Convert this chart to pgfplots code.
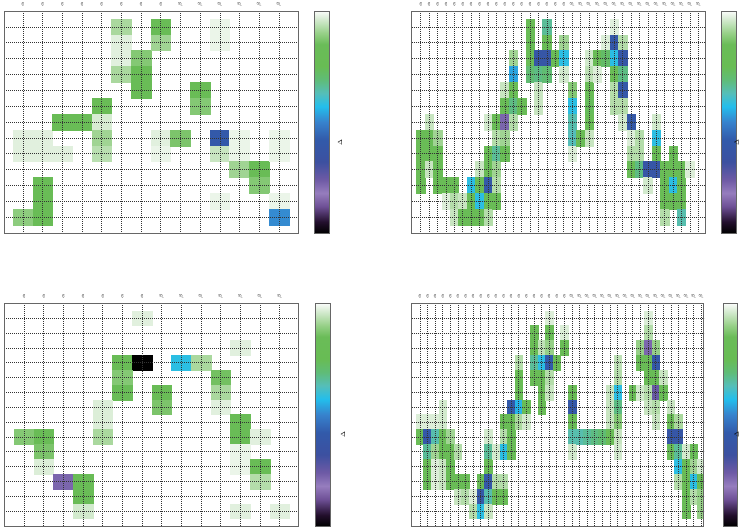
\documentclass[border=0pt]{standalone}
\usepackage{pgfplots}
\pgfplotsset{compat=1.18}
\newcommand{\A}{$\alpha$}
\newcommand{\B}{$\beta$}
\pgfplotsset{
  colormap={delta}{rgb255(0)=(0,0,0) rgb255(50)=(35,15,45) rgb255(120)=(110,80,150)
    rgb255(180)=(150,125,190) rgb255(240)=(110,90,165) rgb255(320)=(60,80,160)
    rgb255(420)=(50,90,170) rgb255(500)=(55,130,205) rgb255(570)=(35,190,236)
    rgb255(630)=(85,190,185) rgb255(690)=(95,188,120) rgb255(750)=(104,188,84)
    rgb255(850)=(106,188,88) rgb255(900)=(150,208,135) rgb255(940)=(190,225,182)
    rgb255(975)=(225,240,222) rgb255(1000)=(250,252,250)},
  hm/.style={
    scale only axis, anchor=north west,
    y dir=reverse, axis on top, clip marker paths=true,
    xticklabel pos=upper,
    major tick length=0pt,
    yticklabels={},
    grid=major,
    grid style={black!80, line width=0.6bp, dash pattern=on 1bp off 1bp},
    axis line style={black!60, line width=0.9bp},
    xticklabel style={rotate=90, anchor=west, inner xsep=4.5bp, inner ysep=0pt, outer sep=0pt,
      font=\fontsize{5}{5}\selectfont},
    colormap name=delta, point meta min=0, point meta max=1,
    colorbar,
  },
  cbs/.style 2 args={colorbar style={at={(parent axis.north east)}, anchor=north west,
      xshift=#1, width=14.5bp, height=#2, scale only axis, ytick=\empty,
      axis line style={black!60, line width=0.9bp}}},
  cell/.style={scatter, only marks, mark=square*, point meta=explicit,
    scatter/use mapped color={draw=mapped color, fill=mapped color}},
}
\begin{document}
\begin{tikzpicture}
% ---------------- top left ----------------
\begin{axis}[hm, at={(4bp,-11bp)}, width=294bp, height=222bp,
  xmin=-0.96, xmax=13.97, ymin=-1, ymax=13,
  xtick={0,...,13}, xticklabels={\A,\A,\A,\A,\A,\A,\A,\A,\B,\B,\B,\B,\B,\B},
  ytick={0,...,12}, cbs={8bp}{222bp}]
\addplot[cell, mark size=7.93bp, mark options={xscale=1.2415}] table[meta=v]{
x y v
0 7 0.975
1 7 0.975
0 8 0.975
1 8 0.975
2 8 0.975
0 12 0.89
1 10 0.81
1 11 0.81
1 12 0.80
2 6 0.81
3 6 0.81
4 5 0.80
4 6 0.965
4 7 0.91
4 8 0.935
5 0 0.92
5 1 0.975
5 2 0.975
5 3 0.92
6 2 0.88
6 3 0.81
6 4 0.81
7 0 0.80
7 1 0.91
7 7 0.975
7 8 0.985
8 7 0.87
9 4 0.81
9 5 0.88
10 0 0.985
10 1 0.985
10 7 0.41
10 8 0.95
10 11 0.985
11 7 0.985
11 8 0.985
11 9 0.91
12 9 0.80
12 10 0.88
13 7 0.985
13 8 0.985
13 11 0.985
13 12 0.51
};
\end{axis}
% ---------------- top right ----------------
\begin{axis}[hm, at={(411.7bp,-11bp)}, width=293.3bp, height=222bp,
  xmin=-1.07, xmax=33.8, ymin=-1, ymax=13,
  xtick={0,...,33}, xticklabels={\A,\A,\A,\A,\A,\A,\A,\A,\A,\A,\A,\A,\A,\A,\A,\A,\A,\A,\B,\B,\B,\B,\B,\B,\B,\B,\B,\B,\B,\B,\B,\B,\B,\B},
  ytick={0,...,12}, cbs={8bp}{222bp}]
\addplot[cell, mark size=7.93bp, mark options={xscale=0.5303}] table[meta=v]{
x y v
0 7 0.81
0 8 0.81
0 9 0.81
0 10 0.81
1 6 0.95
1 7 0.81
1 8 0.81
1 9 0.95
2 7 0.91
2 8 0.81
2 9 0.81
2 10 0.81
3 10 0.81
3 11 0.97
4 10 0.81
4 11 0.93
4 12 0.95
5 11 0.95
5 12 0.81
6 10 0.58
6 11 0.81
6 12 0.81
7 9 0.95
7 10 0.81
7 11 0.58
7 12 0.81
8 6 0.96
8 8 0.81
8 9 0.81
8 10 0.40
8 11 0.81
8 12 0.93
9 6 0.81
9 7 0.93
9 8 0.66
9 9 0.91
9 10 0.93
9 11 0.81
10 4 0.95
10 5 0.81
10 6 0.22
10 7 0.91
10 8 0.81
11 2 0.91
11 3 0.54
11 4 0.81
11 5 0.68
11 6 0.93
12 5 0.81
13 0 0.81
13 1 0.81
13 2 0.81
13 3 0.70
14 2 0.38
14 3 0.68
14 4 0.95
14 5 0.95
15 0 0.66
15 1 0.81
15 2 0.38
15 3 0.70
16 2 0.81
17 1 0.91
17 2 0.58
17 3 0.96
18 4 0.88
18 5 0.58
18 6 0.64
18 7 0.63
18 8 0.97
19 7 0.81
20 2 0.96
20 3 0.94
20 4 0.81
20 5 0.74
20 6 0.81
20 7 0.95
21 2 0.81
21 3 0.97
22 1 0.97
22 2 0.72
23 0 0.975
23 1 0.40
23 2 0.58
23 3 0.81
23 4 0.93
23 5 0.93
24 1 0.93
24 2 0.38
24 3 0.68
24 4 0.40
24 5 0.93
24 6 0.96
25 6 0.40
25 7 0.97
25 8 0.93
25 9 0.81
26 7 0.93
26 8 0.93
26 9 0.68
27 9 0.38
27 10 0.96
28 6 0.96
28 7 0.58
28 8 0.81
28 9 0.38
29 9 0.81
29 10 0.81
29 11 0.81
29 12 0.93
30 8 0.81
30 9 0.81
30 10 0.58
30 11 0.81
31 9 0.81
31 10 0.81
31 11 0.81
31 12 0.64
32 9 0.97
};
\end{axis}
% ---------------- bottom left ----------------
\begin{axis}[hm, at={(4bp,-303.3bp)}, width=294.3bp, height=222.7bp,
  xmin=-1.02, xmax=13.95, ymin=-1, ymax=14,
  xtick={0,...,13}, xticklabels={\A,\A,\A,\A,\A,\A,\A,\B,\B,\B,\B,\B,\B,\B},
  ytick={0,...,13}, cbs={9bp}{222.7bp}]
\addplot[cell, mark size=7.42bp, mark options={xscale=1.324}] table[meta=v]{
x y v
6 0 0.975
11 2 0.975
5 3 0.81
6 3 0.0
8 3 0.58
9 3 0.92
5 4 0.88
5 5 0.82
10 4 0.86
10 5 0.92
10 6 0.975
7 5 0.81
7 6 0.87
4 6 0.97
4 7 0.97
4 8 0.92
11 7 0.81
11 8 0.81
12 8 0.975
0 8 0.88
1 8 0.81
1 9 0.87
1 10 0.97
11 9 0.985
11 10 0.985
12 10 0.81
12 11 0.93
2 11 0.22
3 11 0.81
3 12 0.81
3 13 0.96
11 13 0.975
13 13 0.975
};
\end{axis}
% ---------------- bottom right ----------------
\begin{axis}[hm, at={(411.5bp,-303.3bp)}, width=292bp, height=222.7bp,
  xmin=-1.1, xmax=37.3, ymin=-1, ymax=14,
  xtick={0,...,37}, xticklabels={\A,\A,\A,\A,\A,\A,\A,\A,\A,\A,\A,\A,\A,\A,\A,\A,\A,\A,\A,\A,\B,\B,\B,\B,\B,\B,\B,\B,\B,\B,\B,\B,\B,\B,\B,\B,\B,\B},
  ytick={0,...,13}, cbs={11bp}{222.7bp}]
\addplot[cell, mark size=7.42bp, mark options={xscale=0.512}] table[meta=v]{
x y v
0 7 0.97
0 8 0.81
1 7 0.97
1 8 0.40
1 9 0.66
1 10 0.81
1 11 0.81
2 7 0.97
2 8 0.64
2 9 0.91
2 10 0.97
2 11 0.97
3 6 0.96
3 7 0.96
3 8 0.85
3 9 0.81
3 10 0.95
3 11 0.95
4 8 0.91
4 9 0.81
4 10 0.81
4 11 0.81
5 9 0.93
5 11 0.81
5 12 0.95
6 11 0.81
6 12 0.93
7 12 0.97
7 13 0.93
8 11 0.81
8 12 0.40
8 13 0.58
9 8 0.96
9 9 0.66
9 10 0.81
9 11 0.40
9 12 0.64
9 13 0.95
10 9 0.96
10 11 0.93
10 12 0.81
11 7 0.81
11 8 0.93
11 9 0.58
11 11 0.93
11 12 0.81
12 6 0.42
12 7 0.81
12 8 0.81
12 9 0.81
13 3 0.93
13 4 0.81
13 5 0.81
13 6 0.56
13 7 0.92
14 6 0.81
14 7 0.96
15 1 0.81
15 2 0.81
15 3 0.66
15 4 0.81
16 2 0.94
16 3 0.58
16 4 0.81
16 5 0.81
16 6 0.81
17 0 0.97
17 1 0.81
17 2 0.90
17 3 0.42
17 4 0.93
17 5 0.95
18 3 0.81
19 1 0.97
19 2 0.81
20 5 0.81
20 6 0.40
20 7 0.81
20 8 0.64
20 9 0.96
21 8 0.64
22 8 0.66
23 8 0.68
24 8 0.70
25 5 0.95
25 6 0.95
25 7 0.95
25 8 0.81
26 3 0.94
26 4 0.93
26 5 0.58
26 6 0.68
26 7 0.88
26 8 0.95
26 9 0.96
28 5 0.81
29 2 0.90
29 3 0.81
29 5 0.96
30 0 0.97
30 1 0.93
30 2 0.22
30 3 0.81
30 4 0.81
30 5 0.93
30 6 0.95
31 2 0.90
31 3 0.40
31 4 0.81
31 5 0.25
31 6 0.93
31 7 0.95
32 4 0.95
32 5 0.81
33 6 0.95
33 7 0.81
33 8 0.38
33 9 0.81
34 7 0.92
34 8 0.38
34 9 0.66
34 10 0.58
34 11 0.93
35 9 0.96
35 10 0.81
35 11 0.81
35 12 0.81
35 13 0.81
36 9 0.81
36 10 0.91
36 11 0.58
36 12 0.93
37 10 0.96
37 11 0.81
37 12 0.90
37 13 0.90
};
\end{axis}
\node[rotate=90, font=\fontsize{6}{6}\selectfont, inner sep=0pt] at (340bp,-142.7bp) {$\Delta$};
\node[rotate=90, font=\fontsize{6}{6}\selectfont, inner sep=0pt] at (343bp,-435bp) {$\Delta$};
\node[rotate=90, font=\fontsize{6}{6}\selectfont, inner sep=0pt] at (736.5bp,-142.7bp) {$\Delta$};
\node[rotate=90, font=\fontsize{6}{6}\selectfont, inner sep=0pt] at (736.5bp,-435bp) {$\Delta$};
\pgfresetboundingbox
\path[use as bounding box] (0,0) rectangle (740bp,-528bp);
\end{tikzpicture}
\end{document}
